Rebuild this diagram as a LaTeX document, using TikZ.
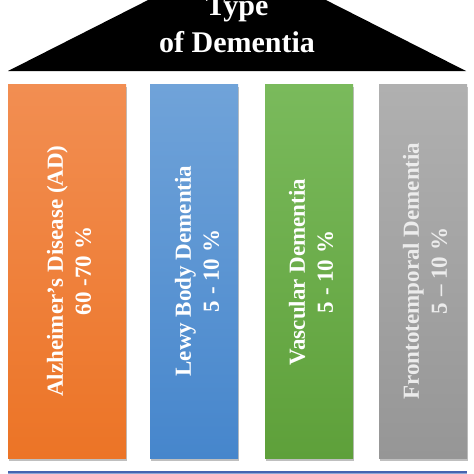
\documentclass[tikz,border=0pt]{standalone}
\usepackage{fontspec}
\setmainfont{Liberation Serif}
\usetikzlibrary{shadows}
\definecolor{orT}{RGB}{242,142,82}
\definecolor{orB}{RGB}{236,116,38}
\definecolor{blT}{RGB}{112,163,217}
\definecolor{blB}{RGB}{70,134,204}
\definecolor{grT}{RGB}{122,186,92}
\definecolor{grB}{RGB}{94,160,58}
\definecolor{gyT}{RGB}{176,176,176}
\definecolor{gyB}{RGB}{150,150,150}
\definecolor{baseFill}{RGB}{142,166,214}
\definecolor{baseEdge}{RGB}{70,100,176}
\definecolor{gyText}{RGB}{236,236,236}
\begin{document}
\begin{tikzpicture}[x=1pt,y=-1pt,
  pillar/.style={draw=none, drop shadow={shadow xshift=1pt, shadow yshift=-3pt, opacity=0.25, fill=black}},
  lbl/.style={rotate=90, align=center, text=white, font=\bfseries\fontsize{23}{28}\selectfont, inner sep=0pt},
  rooftxt/.style={text=white, font=\bfseries\fontsize{30}{36}\selectfont, inner sep=0pt, anchor=base}]
\useasboundingbox (0,0) rectangle (474,474);
\clip (0,0) rectangle (474,474);
\fill[white] (0,0) rectangle (474,474);
% roof
\fill[black] (8,71) -- (237,-45) -- (466,71) -- cycle;
\node[rooftxt] (t1) at (237,15) {Type};
\node[rooftxt] (t2) at (237,52) {of Dementia};
% pillars
\path[pillar, top color=orT, bottom color=orB] (8,84) rectangle (126,458);
\path[pillar, top color=blT, bottom color=blB] (150,84) rectangle (238,458);
\path[pillar, top color=grT, bottom color=grB] (265,84) rectangle (353,458);
\path[pillar, top color=gyT, bottom color=gyB] (379,84) rectangle (467,458);
\node[lbl] (ad) at (69,271) {Alzheimer's Disease (AD)\\60 -70 \%};
\node[lbl] (lb) at (197,271) {Lewy Body Dementia\\5 - 10 \%};
\node[lbl] (vd) at (311,272) {Vascular Dementia\\5 - 10 \%};
\node[lbl, text=gyText] (ft) at (425,271) {Frontotemporal Dementia\\5 – 10 \%};
% base
\fill[baseFill] (8,472) rectangle (467,480);
\draw[baseEdge, line width=1.2pt] (8,472) -- (467,472);
\end{tikzpicture}
\end{document}
